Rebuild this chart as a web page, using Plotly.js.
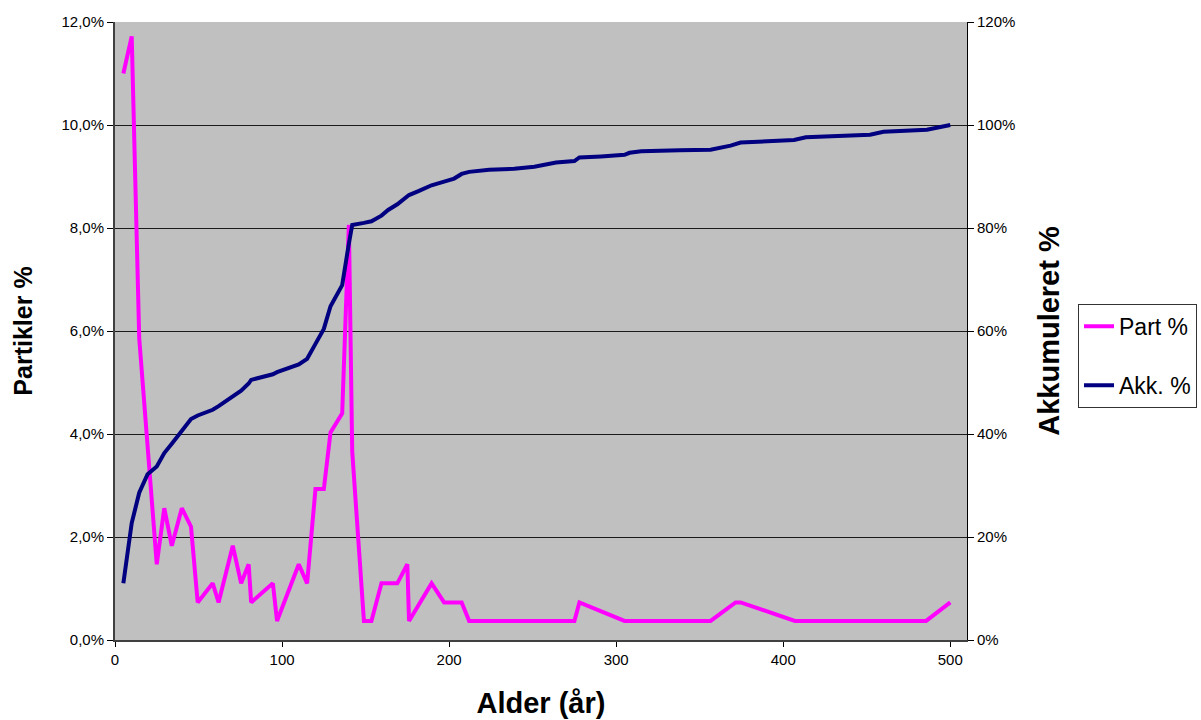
<!DOCTYPE html>
<html>
<head>
<meta charset="utf-8">
<script src="https://cdn.plot.ly/plotly-3.0.1.min.js"></script>
<style>
  html, body { margin: 0; padding: 0; background: #ffffff; }
  #chart { width: 1201px; height: 720px; }
</style>
</head>
<body>
<div id="chart"></div>
<script>
// Part % series (age in years, share of particles)
const partAge = [5, 10, 14.5, 19.5, 25, 29.5, 34, 40, 45.5, 49.5, 58.5, 62, 70.5, 75.5, 80, 81.5,
  94.5, 97, 110, 115, 120, 125, 129, 136, 140, 142, 149, 153.5, 159.5, 169, 175, 176, 189.5,
  197, 207.5, 212, 275, 278, 305, 356.5, 371.5, 374.5, 407, 485.5, 500];
const partPct = [0.110, 0.1172, 0.0586, 0.0366, 0.0147, 0.0256, 0.0183, 0.0256, 0.0220, 0.0073,
  0.0110, 0.0073, 0.0183, 0.0110, 0.0147, 0.0073, 0.0110, 0.0037, 0.0147, 0.0110, 0.0293,
  0.0293, 0.0403, 0.0440, 0.0806, 0.0366, 0.0037, 0.0037, 0.0110, 0.0110, 0.0147, 0.0037,
  0.0110, 0.0073, 0.0073, 0.0037, 0.0037, 0.0073, 0.0037, 0.0037, 0.0073, 0.0073, 0.0037,
  0.0037, 0.0073];

// Akk. % series (cumulative share)
const akkAge = [5, 10, 14.5, 19.5, 25, 29.5, 34, 40, 45.5, 49.5, 58.5, 62, 70.5, 75.5, 80, 81.5,
  94.5, 97, 110, 115, 120, 125, 129, 136, 140, 142, 149, 153.5, 159.5, 163.5, 169, 175, 176,
  182, 189.5, 197, 203, 207.5, 212, 224, 239, 251, 257, 264, 275, 278, 291, 305, 308, 315,
  338, 356.5, 368.5, 374.5, 406.5, 413.5, 452, 460, 486, 500];
const akkPct = [0.110, 0.227, 0.286, 0.322, 0.337, 0.363, 0.381, 0.407, 0.429, 0.436, 0.447,
  0.454, 0.473, 0.484, 0.498, 0.505, 0.516, 0.520, 0.535, 0.546, 0.575, 0.604, 0.648, 0.689,
  0.770, 0.806, 0.810, 0.813, 0.824, 0.835, 0.846, 0.861, 0.864, 0.872, 0.883, 0.890, 0.896,
  0.905, 0.909, 0.913, 0.915, 0.919, 0.922, 0.927, 0.930, 0.937, 0.939, 0.942, 0.946, 0.949,
  0.951, 0.952, 0.960, 0.966, 0.971, 0.976, 0.981, 0.987, 0.991, 1.000];

const xTicks = [0, 100, 200, 300, 400, 500];
const yLeftTicks = [0, 0.02, 0.04, 0.06, 0.08, 0.10, 0.12];
const yRightTicks = [0, 0.2, 0.4, 0.6, 0.8, 1.0, 1.2];

const fontFam = '"Liberation Sans", Arial, sans-serif';

const traces = [
  {
    x: akkAge, y: akkPct, name: 'Akk. %', type: 'scatter', mode: 'lines',
    yaxis: 'y2', legendgroup: 'b', legendrank: 2,
    line: { color: '#000080', width: 4, shape: 'linear' },
    hoverinfo: 'skip'
  },
  {
    x: partAge, y: partPct, name: 'Part %', type: 'scatter', mode: 'lines',
    yaxis: 'y', legendgroup: 'a', legendrank: 1,
    line: { color: '#FF00FF', width: 4, shape: 'linear' },
    hoverinfo: 'skip'
  }
];

const layout = {
  width: 1201, height: 720,
  separators: ',.',
  paper_bgcolor: '#ffffff',
  plot_bgcolor: '#C0C0C0',
  margin: { l: 115, r: 234, t: 22, b: 80, pad: 0, autoexpand: false },
  font: { family: fontFam, size: 15, color: '#000000' },
  showlegend: true,
  xaxis: {
    range: [0, 510], tickvals: xTicks, ticktext: xTicks.map(String),
    ticks: 'outside', ticklen: 5, tickcolor: '#000', tickwidth: 1,
    showline: true, linecolor: '#404040', linewidth: 2, mirror: false,
    showgrid: false, zeroline: false, automargin: false,
    tickfont: { family: fontFam, size: 15, color: '#000' },
    title: { text: 'Alder (år)', font: { family: fontFam, size: 29, color: '#000', weight: 'bold' }, standoff: 26 }
  },
  yaxis: {
    range: [0, 0.12], tickvals: yLeftTicks, tickformat: '.1%',
    ticks: 'outside', ticklen: 6, tickcolor: '#000', tickwidth: 1,
    showline: true, linecolor: '#404040', linewidth: 2,
    showgrid: true, gridcolor: '#1a1a1a', gridwidth: 1, zeroline: false, automargin: false,
    tickfont: { family: fontFam, size: 15, color: '#000' },
    title: { text: 'Partikler %', font: { family: fontFam, size: 25, color: '#000', weight: 'bold' }, standoff: 22 }
  },
  yaxis2: {
    range: [0, 1.2], tickvals: yRightTicks, tickformat: '.0%',
    overlaying: 'y', side: 'right',
    ticks: 'outside', ticklen: 6, tickcolor: '#000', tickwidth: 1,
    showline: true, linecolor: '#000', linewidth: 1,
    showgrid: false, zeroline: false, automargin: false,
    tickfont: { family: fontFam, size: 15, color: '#000' },
    title: { text: 'Akkumuleret %', font: { family: fontFam, size: 29, color: '#000', weight: 'bold' }, standoff: 24 }
  },
  legend: {
    xref: 'container', yref: 'container',
    x: 0.8976, xanchor: 'left', y: 0.578, yanchor: 'top',
    bgcolor: '#ffffff', bordercolor: '#333', borderwidth: 1,
    font: { family: fontFam, size: 23, color: '#000' },
    tracegroupgap: 26, traceorder: 'grouped', itemwidth: 30
  }
};

Plotly.newPlot('chart', traces, layout, { staticPlot: true, displayModeBar: false });
</script>
</body>
</html>
